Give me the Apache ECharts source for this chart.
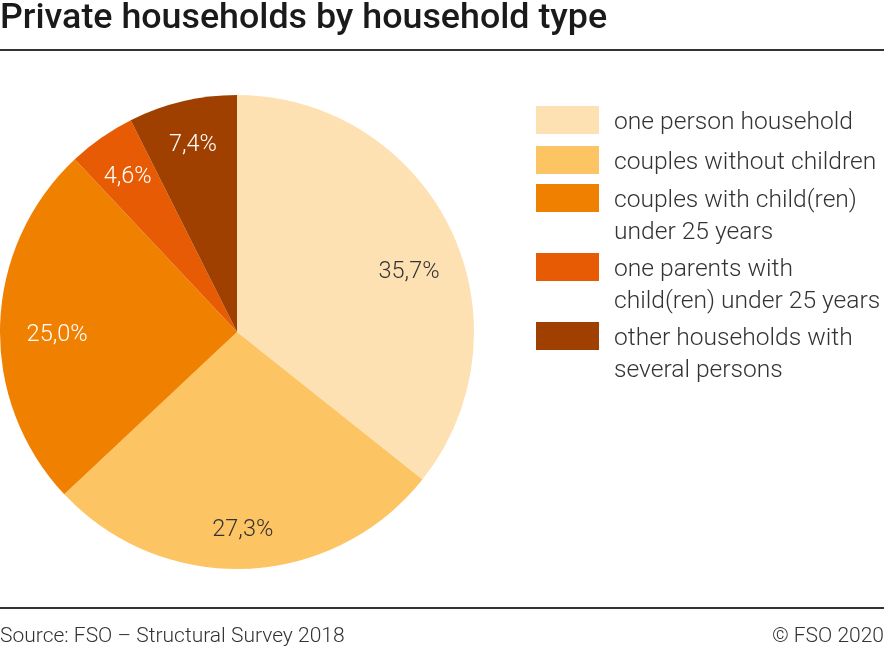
<!DOCTYPE html>
<html><head><meta charset="utf-8">
<script src="https://cdn.jsdelivr.net/npm/echarts@6/dist/echarts.min.js"></script>
<style>html,body{margin:0;padding:0;background:#fff}#c{width:884px;height:650px}</style>
</head><body><div id="c"></div>
<script>
var categories = ['one person household','couples without children','couples with child(ren)\nunder 25 years','one parents with\nchild(ren) under 25 years','other households with\nseveral persons'];
var values = [35.7, 27.3, 25.0, 4.6, 7.4];
var colors = ['#FDE1B3','#FCC462','#F08000','#E85B05','#A04000'];
var labelColors = ['#333333','#333333','#ffffff','#ffffff','#ffffff'];

var chart = echarts.init(document.getElementById('c'));
var data = categories.map(function(c,i){return {name:c,value:values[i],itemStyle:{color:colors[i]}};});
var labelData = categories.map(function(c,i){return {name:c,value:values[i],label:{color:labelColors[i]}};});
var labelShift = [[0,23],[-2,7],[11,9],[0,2],[0,-1]];

var legendY = [106,146,184,253,322];
var graphics = [
  {type:'text',left:0,top:1,style:{text:'Private households by household type',font:'500 35.8px Roboto',fill:'#1a1a1a'}},
  {type:'rect',shape:{x:0,y:49,width:884,height:2},style:{fill:'#333'}},
  {type:'rect',shape:{x:0,y:607,width:884,height:2},style:{fill:'#333'}},
  {type:'text',left:0,top:626,style:{text:'Source: FSO – Structural Survey 2018',font:'300 21px Roboto',fill:'#333'}},
  {type:'text',right:0,top:626,style:{text:'© FSO 2020',font:'300 21px Roboto',fill:'#333'}}
];
categories.forEach(function(c,i){
  graphics.push({type:'rect',shape:{x:536,y:legendY[i],width:63,height:28},style:{fill:colors[i]}});
  graphics.push({type:'text',x:614,y:legendY[i]+1,style:{text:c,font:'300 24.6px Roboto',fill:'#333',lineHeight:32}});
});

chart.setOption({
  animation:false,
  graphic:graphics,
  series:[
    {type:'pie',center:[237,332],radius:[0,237],startAngle:90,clockwise:true,
     data:data,label:{show:false},labelLine:{show:false},silent:true},
    {type:'pie',center:[237,332],radius:[178,198],startAngle:90,clockwise:true,
     data:labelData,silent:true,itemStyle:{color:'rgba(0,0,0,0)'},
     labelLine:{show:false},
     labelLayout:function(p){return {dx:labelShift[p.dataIndex][0],dy:labelShift[p.dataIndex][1]};},
     label:{show:true,position:'inside',fontFamily:'Roboto',fontWeight:300,fontSize:23.5,
       formatter:function(p){return p.value.toFixed(1).replace('.',',')+'%';}}}
  ]
});
</script></body></html>
